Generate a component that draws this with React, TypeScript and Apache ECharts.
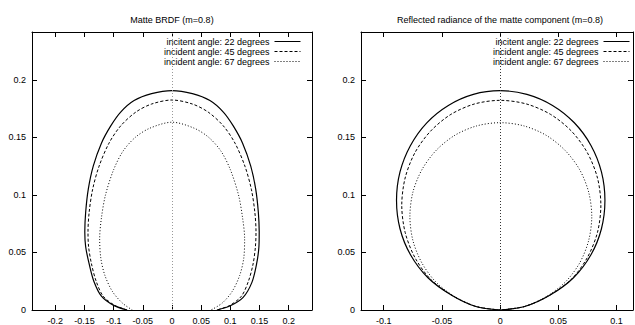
import React, { useEffect, useRef } from "react";
import * as echarts from "echarts";

const FONT = "Liberation Sans, Arial, sans-serif";

const leftTitle = "Matte BRDF (m=0.8)";
const rightTitle = "Reflected radiance of the matte component (m=0.8)";
const seriesNames = [
  "incitent angle: 22 degrees",
  "incident angle: 45 degrees",
  "incident angle: 67 degrees",
];

// Left plot: Matte BRDF (polar, x/y pairs)
const brdf22: number[][] = [
  [-0.077, 0], [-0.1, 0.004], [-0.121, 0.012], [-0.134, 0.025], [-0.142, 0.04], [-0.148, 0.055],
  [-0.1495, 0.068], [-0.148, 0.085], [-0.1435, 0.105], [-0.135, 0.125], [-0.121, 0.145],
  [-0.105, 0.16], [-0.088, 0.172], [-0.065, 0.182], [-0.035, 0.188], [0, 0.1907],
  [0.035, 0.188], [0.065, 0.182], [0.088, 0.172], [0.105, 0.16], [0.121, 0.145], [0.135, 0.125],
  [0.1435, 0.105], [0.148, 0.085], [0.1495, 0.068], [0.149, 0.055], [0.145, 0.04], [0.137, 0.024],
  [0.122, 0.011], [0.1, 0.0037], [0.077, 0],
];
const brdf45: number[][] = [
  [-0.077, 0], [-0.098, 0.004], [-0.118, 0.012], [-0.13, 0.025], [-0.138, 0.04], [-0.143, 0.055],
  [-0.144, 0.068], [-0.142, 0.085], [-0.136, 0.105], [-0.125, 0.125], [-0.108, 0.145],
  [-0.088, 0.16], [-0.062, 0.172], [-0.035, 0.179], [0, 0.1825],
  [0.035, 0.179], [0.062, 0.172], [0.088, 0.16], [0.108, 0.145], [0.125, 0.125], [0.136, 0.105],
  [0.142, 0.085], [0.144, 0.068], [0.143, 0.055], [0.139, 0.04], [0.131, 0.025], [0.119, 0.012],
  [0.099, 0.004], [0.077, 0],
];
const brdf67: number[][] = [
  [-0.068, 0], [-0.085, 0.006], [-0.102, 0.016], [-0.115, 0.03], [-0.122, 0.045], [-0.124, 0.062],
  [-0.121, 0.08], [-0.114, 0.1], [-0.1, 0.122], [-0.084, 0.138], [-0.063, 0.15], [-0.038, 0.158],
  [0, 0.1632],
  [0.038, 0.158], [0.063, 0.15], [0.084, 0.138], [0.1, 0.122], [0.114, 0.1], [0.121, 0.08],
  [0.1245, 0.062], [0.123, 0.045], [0.116, 0.03], [0.103, 0.016], [0.086, 0.006], [0.067, 0],
];

// Right plot: reflected radiance
const rad22: number[][] = [
  [0, 0], [-0.021, 0.003], [-0.042, 0.013], [-0.062, 0.028], [-0.077, 0.048], [-0.086, 0.0706],
  [-0.089, 0.0953], [-0.086, 0.12], [-0.077, 0.143], [-0.063, 0.1627], [-0.0445, 0.1778],
  [-0.023, 0.1874], [0, 0.1906], [0.023, 0.1874], [0.045, 0.1778], [0.0637, 0.1627],
  [0.078, 0.143], [0.087, 0.12], [0.09, 0.0953], [0.087, 0.0706], [0.078, 0.048], [0.063, 0.028],
  [0.043, 0.013], [0.021, 0.003], [0, 0],
];
const rad45: number[][] = [
  [0, 0], [-0.0205, 0.003], [-0.0405, 0.0122], [-0.0597, 0.0267], [-0.0732, 0.0456],
  [-0.0816, 0.0675], [-0.0845, 0.0911], [-0.0816, 0.1147], [-0.0732, 0.1367], [-0.0597, 0.1555],
  [-0.0423, 0.17], [-0.0219, 0.1791], [0, 0.1822], [0.0224, 0.1791], [0.0433, 0.17],
  [0.0612, 0.1555], [0.0749, 0.1367], [0.0836, 0.1147], [0.0865, 0.0911], [0.0836, 0.0675],
  [0.0749, 0.0456], [0.0612, 0.0267], [0.0415, 0.0122], [0.021, 0.003], [0, 0],
];
const rad67: number[][] = [
  [0, 0], [-0.0195, 0.0028], [-0.0378, 0.0109], [-0.0548, 0.0239], [-0.0671, 0.0407],
  [-0.0749, 0.0603], [-0.0775, 0.0814], [-0.0749, 0.1025], [-0.0671, 0.1221], [-0.0548, 0.1389],
  [-0.0388, 0.1519], [-0.0201, 0.16], [0, 0.1628], [0.0204, 0.16], [0.0394, 0.1519],
  [0.0556, 0.1389], [0.0682, 0.1221], [0.076, 0.1025], [0.0787, 0.0814], [0.076, 0.0603],
  [0.0682, 0.0407], [0.0556, 0.0239], [0.0384, 0.0109], [0.0198, 0.0028], [0, 0],
];

const leftX = { min: -0.24, max: 0.24 };
const rightX = { min: -0.1195, max: 0.1141 };
const yRange = { min: 0, max: 0.2416 };

const lineTypes: any[] = ["solid", [3, 2], [1, 2]];
const lineWidths = [1.2, 1, 1];

function fmt(v: number) {
  const r = Math.round(v / 0.05);
  if (Math.abs(v - r * 0.05) > 1e-6) return "";
  return String(+(r * 0.05).toFixed(2));
}

function xAxisCfg(grid: number, range: { min: number; max: number }, pos: "bottom" | "top", split: number) {
  return {
    type: "value",
    gridIndex: grid,
    position: pos,
    min: range.min,
    max: range.max,
    splitNumber: split,
    axisLine: { show: true, onZero: false, lineStyle: { color: "#000", width: 1 } },
    axisTick: { show: true, inside: true, length: 5, lineStyle: { color: "#000", width: 1 } },
    axisLabel: {
      show: pos === "bottom",
      margin: 6,
      fontSize: 9,
      fontFamily: FONT,
      color: "#000",
      showMinLabel: false,
      showMaxLabel: false,
      formatter: fmt,
    },
    splitLine: { show: false },
  };
}

function yAxisCfg(grid: number, pos: "left" | "right") {
  return {
    type: "value",
    gridIndex: grid,
    position: pos,
    min: yRange.min,
    max: yRange.max,
    splitNumber: 5,
    axisLine: { show: true, onZero: false, lineStyle: { color: "#000", width: 1 } },
    axisTick: { show: true, inside: true, length: 5, lineStyle: { color: "#000", width: 1 } },
    axisLabel: {
      show: pos === "left",
      margin: 6,
      fontSize: 9,
      fontFamily: FONT,
      color: "#000",
      showMaxLabel: false,
      formatter: fmt,
    },
    splitLine: { show: false },
  };
}

function mkSeries(name: string, data: number[][], idx: number, axis: number, smooth: number, zeroColor: string | null) {
  const s: any = {
    type: "line",
    name,
    data,
    xAxisIndex: axis,
    yAxisIndex: axis,
    symbol: "none",
    smooth,
    lineStyle: { color: "#000", width: lineWidths[idx], type: lineTypes[idx] },
    itemStyle: { color: "#000" },
    z: 3,
  };
  if (zeroColor) {
    s.markLine = {
      silent: true,
      symbol: "none",
      label: { show: false },
      lineStyle: { color: zeroColor, type: [1, 2], width: 1 },
      data: [{ xAxis: 0 }],
    };
  }
  return s;
}

export default function App() {
  const ref = useRef<HTMLDivElement>(null);
  useEffect(() => {
    if (!ref.current) return;
    const chart = echarts.init(ref.current, null, { renderer: "svg" });
    const legendCommon = {
      orient: "vertical",
      align: "right",
      itemWidth: 26,
      itemHeight: 8,
      itemGap: 1,
      padding: 0,
      data: seriesNames,
      selectedMode: false,
      itemStyle: { color: "rgba(0,0,0,0)", borderColor: "rgba(0,0,0,0)", borderWidth: 0, opacity: 0 },
      lineStyle: { width: 1 },
      textStyle: { fontSize: 9, fontFamily: FONT, color: "#000", lineHeight: 9 },
    };
    chart.setOption({
      animation: false,
      backgroundColor: "#fff",
      grid: [
        { left: 32, top: 32, width: 280, height: 279 },
        { left: 361, top: 32, width: 272, height: 279 },
      ],
      xAxis: [
        xAxisCfg(0, leftX, "bottom", 10),
        xAxisCfg(0, leftX, "top", 10),
        xAxisCfg(1, rightX, "bottom", 5),
        xAxisCfg(1, rightX, "top", 5),
      ],
      yAxis: [yAxisCfg(0, "left"), yAxisCfg(0, "right"), yAxisCfg(1, "left"), yAxisCfg(1, "right")],
      legend: [
        { ...legendCommon, right: 334, top: 37 },
        { ...legendCommon, right: 5, top: 37 },
      ],
      graphic: [
        {
          type: "text",
          x: 172,
          y: 20,
          style: { text: leftTitle, font: `9px ${FONT}`, fill: "#000", textAlign: "center", textVerticalAlign: "middle" },
        },
        {
          type: "text",
          x: 500,
          y: 20,
          style: { text: rightTitle, font: `9px ${FONT}`, fill: "#000", textAlign: "center", textVerticalAlign: "middle" },
        },
      ],
      series: [
        mkSeries(seriesNames[0], brdf22, 0, 0, 0.3, "#999"),
        mkSeries(seriesNames[1], brdf45, 1, 0, 0.3, null),
        mkSeries(seriesNames[2], brdf67, 2, 0, 0.3, null),
        mkSeries(seriesNames[0], rad22, 0, 2, 0.3, "#333"),
        mkSeries(seriesNames[1], rad45, 1, 2, 0.3, null),
        mkSeries(seriesNames[2], rad67, 2, 2, 0.3, null),
      ],
    });
    return () => chart.dispose();
  }, []);
  return (
    <div
      ref={ref}
      style={{ position: "absolute", left: 0, top: 0, width: 635, height: 325, background: "#fff" }}
    />
  );
}
